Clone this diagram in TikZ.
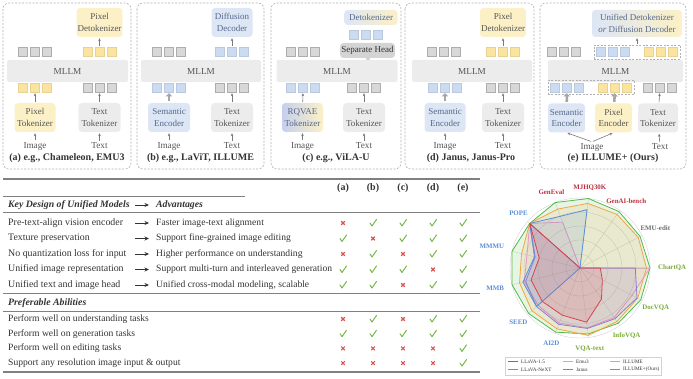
\documentclass[tikz,border=0pt]{standalone}
\usepackage{fontspec}
\setmainfont{Liberation Serif}
\usetikzlibrary{arrows.meta,fit}

\definecolor{frame}{HTML}{B0B0B0}
\definecolor{ink}{HTML}{555555}
\definecolor{bink}{HTML}{56678A}
\definecolor{tink}{HTML}{333333}
\definecolor{yfill}{HTML}{FCF0C6}
\definecolor{bfill}{HTML}{DCE6F5}
\definecolor{rqb}{HTML}{C6D0EE}
\definecolor{gfill}{HTML}{ECECEC}
\definecolor{hfill}{HTML}{D4D4D4}
\definecolor{ytokc}{HTML}{FBE3A0}
\definecolor{btokc}{HTML}{CBDBF1}
\definecolor{gtokc}{HTML}{D8D8D8}
\definecolor{agray}{HTML}{7A7A7A}
\definecolor{fatgray}{HTML}{A6A6A6}
\definecolor{rulec}{HTML}{808080}
\definecolor{okgreen}{HTML}{77B84A}
\definecolor{nored}{HTML}{D9534F}
\definecolor{cred}{HTML}{D8434F}
\definecolor{cpurple}{HTML}{8C7DD0}
\definecolor{cpink}{HTML}{E49AC0}
\definecolor{cblue}{HTML}{5A8ED8}
\definecolor{corange}{HTML}{F2A541}
\definecolor{cgreen}{HTML}{55B848}
\definecolor{lred}{HTML}{C0303F}
\definecolor{lblue}{HTML}{5B8FD8}
\definecolor{lgreen}{HTML}{7AAA35}
\definecolor{lgray}{HTML}{6E6E6E}
\definecolor{gridc}{HTML}{D2D2D2}

\newcommand\boxfont{\fontsize{9}{11.6}\selectfont}
\newcommand\radar[3]{\draw[#1,line width=.8pt,line join=round,fill=#1,fill opacity=.14] (0:#2*70) \foreach \v [count=\i] in {#3} {-- ({\i*360/13}:{\v*70})} -- cycle;}

\tikzset{
  panel/.style={draw=frame,dash pattern=on 2pt off 1.5pt,rounded corners=6pt,line width=.6pt},
  mllm/.style={fill=gfill,rounded corners=2pt,minimum height=22pt,inner sep=0pt,font=\fontsize{9.2}{11}\selectfont,text=ink},
  pbox/.style={rounded corners=3.5pt,minimum height=29pt,inner sep=1pt,align=center,font=\boxfont,text=ink},
  ybox/.style={pbox,fill=yfill},
  bbox/.style={pbox,fill=bfill,text=bink},
  gbox/.style={pbox,fill=gfill},
  hbox/.style={pbox,fill=hfill,minimum height=15pt,text=tink},
  tokbase/.style={minimum size=9pt,inner sep=0pt,line width=.4pt},
  gtok/.style={tokbase,fill=gtokc,draw=gtokc!80!black},
  ytok/.style={tokbase,fill=ytokc,draw=ytokc!92!black},
  btok/.style={tokbase,fill=btokc,draw=btokc!92!black},
  pics/toks/.style={code={\foreach \i in {1,2,3} \node[#1] (-\i) at ({(\i-2)*12},0) {};}},
  dbox/.style={draw=frame,dash pattern=on 2pt off 1.5pt,inner sep=2.5pt,line width=.5pt},
  arr/.style={draw=agray,line width=.6pt,-{Stealth[length=3pt,width=2.6pt]},shorten <=1pt,shorten >=1pt},
  fat/.style={draw=fatgray,line width=2.6pt,-{Triangle[length=3.2pt,width=6.5pt]},shorten <=1.5pt,shorten >=1pt},
  stub/.style={draw=hfill,line width=4pt},
  lbl/.style={font=\fontsize{9.2}{11}\selectfont,text=ink,inner sep=1pt},
  captxt/.style={font=\fontsize{10}{12}\selectfont\bfseries,text=tink},
  hrule/.style={draw=rulec,line width=.8pt},
  tabtxt/.style={anchor=west,inner sep=0pt,font=\fontsize{9.9}{12}\selectfont,text=tink},
  advtxt/.style={tabtxt,font=\fontsize{9.6}{12}\selectfont},
  tabhead/.style={tabtxt,font=\fontsize{9.8}{12}\selectfont\bfseries\itshape},
  colhead/.style={font=\fontsize{10}{12}\selectfont\bfseries,text=tink,inner sep=0pt},
  tabarr/.style={draw=tink,line width=.9pt,-{Stealth[length=4.5pt,width=4pt]},shorten >=7pt},
  okmark/.pic={\draw[okgreen,line width=1pt,line cap=round,line join=round] (-3,0) -- (-1,3) -- (3.5,-3.5);},
  nomark/.pic={\draw[nored,line width=1.1pt] (-1.8,-1.8) -- (1.8,1.8) (-1.8,1.8) -- (1.8,-1.8);},
  gridl/.style={draw=gridc,line width=.4pt},
  rlbl/.style={font=\fontsize{6.9}{8}\selectfont\bfseries,inner sep=1pt},
  leg/.style={anchor=west,inner sep=0pt,font=\fontsize{5.2}{6}\selectfont,text=tink}
}

\begin{document}
\begin{tikzpicture}[x=1pt,y=-1pt]
\useasboundingbox (0,0) rectangle (693,379);

% (a) pixel tokenizer + pixel detokenizer
\begin{scope}[shift={(3,0)}]
\draw[panel] (0,3) rectangle (128,169);
\node[mllm,minimum width=121pt] (a-mllm) at (64.5,71) {MLLM};
\node[ybox,minimum width=45pt] (a-dtok) at (96.5,22.5) {Pixel\\Detokenizer};
\pic (a-tl) at (32,52) {toks=gtok};
\pic (a-tr) at (96.5,52) {toks=ytok};
\pic (a-bl) at (32,87.5) {toks=ytok};
\pic (a-br) at (96.5,87.5) {toks=gtok};
\node[ybox,minimum width=41pt] (a-enc) at (32,117.5) {Pixel\\Tokenizer};
\node[gbox,minimum width=42pt] (a-txt) at (96.5,117.5) {Text\\Tokenizer};
\node[lbl] (a-img) at (32,146) {Image};
\node[lbl] (a-text) at (96.5,146) {Text};
\draw[arr] (a-img) -- (a-enc);
\draw[arr] (a-text) -- (a-txt);
\draw[arr] (a-enc) -- (a-bl-2);
\draw[arr] (a-txt) -- (a-br-2);
\draw[arr] (a-tr-2) -- (a-dtok);
\node[captxt] (a-cap) at (64,158) {(a) e.g., Chameleon, EMU3};
\end{scope}

% (b) semantic encoder + diffusion decoder
\begin{scope}[shift={(137,0)}]
\draw[panel] (0,3) rectangle (127,169);
\node[mllm,minimum width=120pt] (b-mllm) at (64,71) {MLLM};
\node[bbox,minimum width=41pt] (b-dtok) at (95,22.5) {Diffusion\\Decoder};
\pic (b-tl) at (32,52) {toks=gtok};
\pic (b-tr) at (95,52) {toks=btok};
\pic (b-bl) at (32,87.5) {toks=btok};
\pic (b-br) at (95,87.5) {toks=gtok};
\node[bbox,minimum width=42pt] (b-enc) at (32,117.5) {Semantic\\Encoder};
\node[gbox,minimum width=42pt] (b-txt) at (95,117.5) {Text\\Tokenizer};
\node[lbl] (b-img) at (32,146) {Image};
\node[lbl] (b-text) at (95,146) {Text};
\draw[arr] (b-img) -- (b-enc);
\draw[arr] (b-text) -- (b-txt);
\draw[fat] (b-enc) -- (b-bl-2);
\draw[arr] (b-txt) -- (b-br-2);
\draw[arr] (b-tr-2) -- (b-dtok);
\node[captxt] (b-cap) at (63.5,158) {(b) e.g., LaViT, ILLUME};
\end{scope}

% (c) rqvae tokenizer + separate head
\begin{scope}[shift={(271,0)}]
\draw[panel] (0,3) rectangle (130,169);
\node[mllm,minimum width=121pt] (c-mllm) at (66,71) {MLLM};
\node[pbox,left color=bfill,right color=yfill,minimum width=53pt,minimum height=15pt,text=bink] (c-dtok) at (100,17.5) {Detokenizer};
\pic (c-tr) at (95,34.5) {toks=btok};
\node[hbox,minimum width=55pt] (c-head) at (96.5,50.5) {Separate Head};
\pic (c-tl) at (32,52) {toks=gtok};
\pic (c-bl) at (32,87.5) {toks=btok};
\pic (c-br) at (93,87.5) {toks=gtok};
\node[pbox,left color=rqb,right color=yfill,minimum width=41pt,text=bink] (c-enc) at (31.5,117.5) {RQVAE\\Tokenizer};
\node[gbox,minimum width=42pt] (c-txt) at (93,117.5) {Text\\Tokenizer};
\node[lbl] (c-img) at (31.5,146) {Image};
\node[lbl] (c-text) at (93,146) {Text};
\draw[stub] (c-head.south) -- (c-head.south |- c-mllm.north);
\draw[arr] (c-img) -- (c-enc);
\draw[arr] (c-text) -- (c-txt);
\draw[arr] (c-enc) -- (c-bl-2);
\draw[arr] (c-txt) -- (c-br-2);
\node[captxt] (c-cap) at (65,158) {(c) e.g., ViLA-U};
\end{scope}

% (d) janus
\begin{scope}[shift={(405,0)}]
\draw[panel] (0,3) rectangle (129,169);
\node[mllm,minimum width=120pt] (d-mllm) at (67,71) {MLLM};
\node[ybox,minimum width=42pt] (d-dtok) at (98,22.5) {Pixel\\Detokenizer};
\pic (d-tl) at (39,52) {toks=gtok};
\pic (d-tr) at (98,52) {toks=ytok};
\pic (d-bl) at (40,87.5) {toks=btok};
\pic (d-br) at (98,87.5) {toks=gtok};
\node[bbox,minimum width=41pt] (d-enc) at (40,117.5) {Semantic\\Encoder};
\node[gbox,minimum width=42pt] (d-txt) at (98,117.5) {Text\\Tokenizer};
\node[lbl] (d-img) at (40,146) {Image};
\node[lbl] (d-text) at (98,146) {Text};
\draw[arr] (d-img) -- (d-enc);
\draw[arr] (d-text) -- (d-txt);
\draw[fat] (d-enc) -- (d-bl-2);
\draw[arr] (d-txt) -- (d-br-2);
\draw[arr] (d-tr-2) -- (d-dtok);
\node[captxt] (d-cap) at (66,158) {(d) Janus, Janus-Pro};
\end{scope}

% (e) ours
\begin{scope}[shift={(540,0)}]
\draw[panel] (0,3) rectangle (146,169);
\node[mllm,minimum width=135pt] (e-mllm) at (75.5,71) {MLLM};
\node[pbox,left color=bfill,right color=yfill,minimum width=90pt,minimum height=27pt,text=bink] (e-dtok) at (97,23.5) {Unified Detokenizer\\\textit{or} Diffusion Decoder};
\pic (e-tl) at (24,52) {toks=gtok};
\pic (e-tb) at (73,52) {toks=btok};
\pic (e-ty) at (121,52) {toks=ytok};
\node[dbox,fit=(e-tb-1)(e-ty-3)] (e-top) {};
\pic (e-bb) at (27,87.5) {toks=btok};
\pic (e-by) at (75,87.5) {toks=ytok};
\pic (e-bg) at (120,87.5) {toks=gtok};
\node[dbox,fit=(e-bb-1)(e-by-3)] (e-bot) {};
\node[bbox,minimum width=37pt] (e-sem) at (26.5,118) {Semantic\\Encoder};
\node[ybox,minimum width=37pt] (e-pix) at (73.5,118) {Pixel\\Encoder};
\node[gbox,minimum width=40pt] (e-txt) at (118,118) {Text\\Tokenizer};
\node[lbl] (e-img) at (52,147) {Image};
\node[lbl] (e-text) at (120,147) {Text};
\draw[arr] (e-img.north) -- (e-sem.south);
\draw[arr] (e-img.north) -- (e-pix.south);
\draw[arr] (e-text) -- (e-txt);
\draw[fat] (e-sem) -- (e-bb-2);
\draw[fat] (e-pix) -- (e-by-2);
\draw[arr] (e-txt) -- (e-bg-2);
\draw[arr] (e-top) -- (e-dtok);
\node[captxt] (e-cap) at (73,158) {(e) ILLUME+ (Ours)};
\end{scope}

% comparison table
\draw[hrule,line width=1.2pt] (3,179) -- (480,179);
\foreach \c [count=\j] in {a,b,c,d,e} \node[colhead] (h\c) at ({313+30*\j},188) {(\c)};
\draw[hrule] (3,196) -- (245,196);
\node[tabhead] (khead) at (8,205) {Key Design of Unified Models};
\node[tabhead] (vhead) at (156,205) {Advantages};
\coordinate (shead) at (135,205);
\draw[tabarr] (shead) -- (vhead);
\draw[hrule] (3,212) -- (480,212);
\foreach \k/\v [count=\i] in {Pre-text-align vision encoder/Faster image-text alignment,
    Texture preservation/Support fine-grained image editing,
    No quantization loss for input/Higher performance on understanding,
    Unified image representation/Support multi-turn and interleaved generation,
    Unified text and image head/{Unified cross-modal modeling, scalable}} {
  \node[tabtxt] (k\i) at (8,{223+15.5*(\i-1)}) {\k};
  \node[advtxt] (v\i) at (156,{223+15.5*(\i-1)}) {\v};
  \coordinate (s\i) at (135,{223+15.5*(\i-1)});
  \draw[tabarr] (s\i) -- (v\i);
}
\foreach \m [count=\i] in {{0,1,1,1,1},{1,0,1,1,1},{0,1,0,1,1},{1,1,1,0,1},{1,1,0,1,1}}
  \foreach \v [count=\j] in \m {
    \ifnum\v=1 \pic at ({313+30*\j},{223+15.5*(\i-1)}) {okmark};
    \else \pic at ({313+30*\j},{223+15.5*(\i-1)}) {nomark}; \fi
  }
\draw[hrule] (3,293) -- (480,293);
\node[tabhead] (phead) at (8,303) {Preferable Abilities};
\draw[hrule] (3,311) -- (480,311);
\foreach \t [count=\i] in {Perform well on understanding tasks, Perform well on generation tasks,
    Perform well on editing tasks, Support any resolution image input \& output}
  \node[advtxt] (p\i) at (8,{319+14.7*(\i-1)}) {\t};
\foreach \m [count=\i] in {{0,1,0,1,1},{1,1,1,1,1},{0,0,0,0,1},{0,0,0,0,1}}
  \foreach \v [count=\j] in \m {
    \ifnum\v=1 \pic at ({313+30*\j},{319+14.7*(\i-1)}) {okmark};
    \else \pic at ({313+30*\j},{319+14.7*(\i-1)}) {nomark}; \fi
  }
\draw[hrule,line width=1.2pt] (3,372) -- (480,372);

% radar chart
\begin{scope}[shift={(580,268)},yscale=-1]
\foreach \r in {14,28,...,70} \draw[gridl] (0,0) circle[radius=\r];
\foreach \i in {0,...,12} \draw[gridl] (0,0) -- ({\i*360/13}:70);
\radar{cgreen}{1}{.97,.98,1,1,.96,1,1,.98,.98,.95,.96,.98}
\radar{corange}{.95}{.94,.93,.93,.9,.96,.86,.89,.92,.93,.97,.93,.93}
\radar{cpink}{1}{0,0,0,.7,.96,.78,.82,.8,.84,.86,.86,.84}
\radar{cpurple}{.79}{0,0,0,0,.96,.66,.8,.83,.86,.87,.88,.92}
\radar{cblue}{0}{0,0,.84,.79,.96,.67,.84,.83,0,0,0,0}
\radar{cred}{.29}{0,0,0,0,.96,.6,.72,.72,.72,.78,.54,.36}
\foreach \t/\c [count=\i from 0, evaluate=\i as \ang using \i*360/13, evaluate=\i as \anc using \i*360/13+180] in
    {ChartQA/lgreen, EMU-edit/lgray, GenAI-bench/lred, MJHQ30K/lred, GenEval/lred, POPE/lblue, MMMU/lblue,
     MMB/lblue, SEED/lblue, AI2D/lblue, VQA-text/lgreen, InfoVQA/lgreen, DocVQA/lgreen}
  \node[rlbl,text=\c,anchor=\anc] (r\i) at (\ang:77) {\t};
\end{scope}

% legend
\draw[draw=gridc,line width=.5pt] (505,357) rectangle (661,375);
\foreach \t/\c/\x/\y [count=\i] in {LLaVA-1.5/cred/508/361.5, Emu3/cpink/563/361.5, ILLUME/corange/610/361.5,
    LLaVA-NeXT/cpurple/508/369.5, Janus/cblue/563/369.5, ILLUME+(Ours)/cgreen/610/369.5} {
  \draw[\c,line width=.8pt] (\x,\y) -- ++(10,0);
  \node[leg] (lg\i) at ({\x+13},\y) {\t};
}
\end{tikzpicture}
\end{document}
